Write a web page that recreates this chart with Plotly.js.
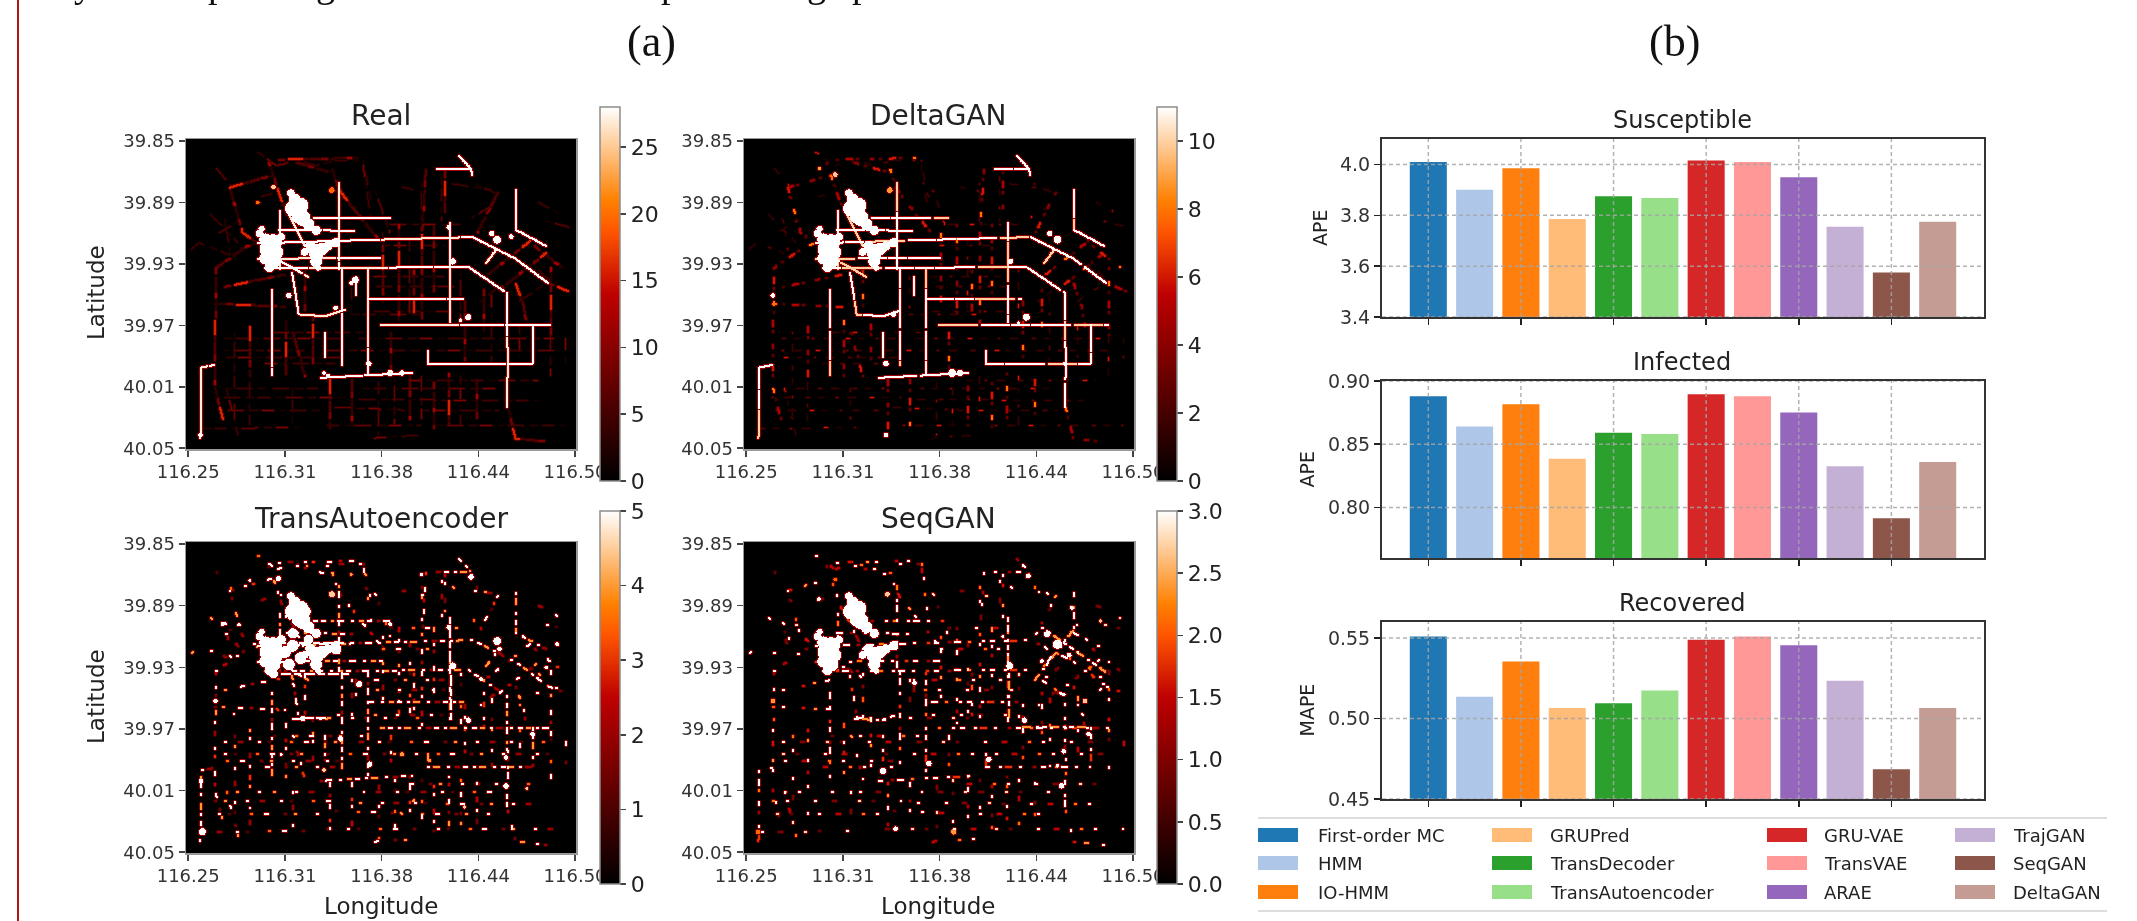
<!DOCTYPE html>
<html><head><meta charset="utf-8">
<script src="https://cdn.plot.ly/plotly-3.0.1.min.js"></script>
<style>html,body{margin:0;padding:0;background:#fff;overflow:hidden}#chart{width:2137px;height:921px;filter:blur(.6px)}</style>
</head><body><div id="chart"></div>
<script>
// ---------- bar data ----------
const methods = ['First-order MC','HMM','IO-HMM','GRUPred','TransDecoder','TransAutoencoder','GRU-VAE','TransVAE','ARAE','TrajGAN','SeqGAN','DeltaGAN'];
const barColors = ['#1f77b4','#aec7e8','#ff7f0e','#ffbb78','#2ca02c','#98df8a','#d62728','#ff9896','#9467bd','#c5b0d5','#8c564b','#c49c94'];
const susceptible = [4.01,3.90,3.985,3.785,3.875,3.868,4.015,4.01,3.95,3.755,3.575,3.775];
const infected = [0.888,0.864,0.8816,0.8385,0.859,0.858,0.8895,0.888,0.875,0.8325,0.7915,0.836];
const recovered = [0.551,0.5135,0.5355,0.5065,0.5095,0.5175,0.549,0.551,0.5455,0.5235,0.4685,0.5065];

// ---------- heat-map tick labels ----------
const lonTicks = [116.25,116.3125,116.375,116.4375,116.5];
const lonLabels = ['116.25','116.31','116.38','116.44','116.50'];
const latTicks = [39.85,39.89,39.93,39.97,40.01,40.05];
const latLabels = ['39.85','39.89','39.93','39.97','40.01','40.05'];

// ---------- roads traced from the Real / DeltaGAN maps, as % across and % down each map ----------
const mainRoads = [
 [18,33,44,32,73,31,84,38,92.5,46],
 [19.8,41,72,40.7,81.7,49,82,73,81.7,86],
 [18,38,50,37.7],[23.3,28.6,42.7,29],[32.4,24.8,52,25],[23.5,22.7,23.5,41.5],
 [38.7,13.5,38.7,41.5],[39.5,41.5,39.5,72.6],[21.5,48,21.5,75.8],
 [26.7,42.5,28.4,56,35.3,56.5,40.4,54.3],[46.2,41.5,46.2,75.8],[34,76.4,40,76,57.6,74.8],
 [46.2,51.1,70.8,51.1],[67.1,26.4,67.1,58.6],[49.6,59.2,93.1,59.2],[88.5,59.2,88.5,72],
 [61.6,71.8,88.5,71.8],[61.6,67.8,61.6,71.8],[3.2,95.7,3.4,73.1,7,72.1],
 [63.9,8.9,72.5,8.9,73,11.4],[69.6,4.9,72.5,8.9],[84,15.7,84,28.6],[76.5,39.3,79.4,34.5],
 [84,28.6,92,34],[35,62,35,70],[20,36,31,44],[26,24,30,34],[43,44,43,50]
];
const minorRoads = [
 [7.2,41,15.2,33.9,18,33],[7.2,41,7,63,7,80,9,90],[10.7,15,14,29.6,18,33],
 [20.8,7,23.6,17.8,25.5,24.3],[37,9.2,38.7,15.7,44,24.3,49,32],[23.3,6,43.6,5.5],[10.7,15,22,11],
 [79.4,16.8,74.2,29.6],[61,9.2,60,30.7,60.1,58.6],[79.9,48,92,36],[77,43,88,32],[93,41,93,63],
 [7,52.5,25,53.5],[9.5,47,25,43],[36.4,77,36.4,93],[57,75,57,90],[42,77,42,92],[63,78,63,93],
 [74,77,74,91],[54,27,54,58],[50,30,50,52],[32,56,32,72],[16,60,16,76],[27,62,30,76],
 [71,52,71,71],[76,48,76,62],[52,62,52,74],[67,75,67,92],[82,86,84,96,92,97],[92.5,46,97.7,48.5],
 [84,46,86,53,87,60],[63,27,63,50],[28,7,36,10],[89,34,96,41],[30,42,30,56],[58,42,58,56],[25,58,25,76],[66,10,66,24]
];
const faintRoads = [
 [9.5,64,40,64],[44,64,94,64],[9.5,67.8,30,67.8],[36,67.8,60,67.8],[64,67.8,94,67.8],[57,77.4,90,77.4],[7,83,40,83],[44,83.5,90,84],
 [4,93,30,92.5],[36,92,60,92],[64,92,97,92],[7.4,9,11.3,14.8],[18,3.8,23.3,8.6],[23,8,28.5,6.5,33,8,38,6.5,45,6.5],[45,6.5,47,19],
 [1,35,3,33,11,37],[9.6,25.5,11,37],[19,18,24,16.5],[13,26,8,30],[52,27,70,27],[50,34,66,34],[48,44,66,44],[46,47,70,47],[48,55,68,55],
 [42,44,42,56],[57,32,57,58],[70,42,70,58],[22,62,46,62],[10,70,40,70],[20,72,38,72],[10,80,20,80],[22,80,36,80],[45,80,60,80],[60,80,80,80],
 [8,87,34,87],[38,86,56,87],[60,87,80,87],[48,96,60,95],[12,62,12,92],[16,78,16,92],[27,80,27,92],[49,78,49,95],[53,76,53,92],[60,76,60,90],
 [70,76,70,92],[78,50,78,72],[88,40,96,48],[85,52,92,46],[75,52,81,46],[90,20,96,24],[92,26,98,28],[93,63,93,76],[85,60,85,70],[97,64,97,72],
 [60,14,60,26],[68,14,78,16],[65,12,65,26],[55,15,62,17],[48,16,52,30],[78,21,73,25],[10,80,13,95],[45,8,47,25],[74,14,79,17],[6,24,13,33],[42,56,60,56]
];
// dense hot zones, shared by all maps: x %, y %, radius %, share of the colour-bar top
const hotZones = [
 [26.5,17,1,1],[27.5,19,1.5,1],[29,21,2,1],[27,22,2,1],[29.5,25,2,1],[31,27,1.5,1],[28,25,1.2,1],[33,29,1.2,1],
 [18.5,30,1,1],[20,32,1.6,1],[22,33,2.2,1],[20.5,35,2,1],[23,36,1.6,1],[20,38,1.6,1],[22,39,1.8,1],[21,41,1.2,1],[24,31,1,1],[19,28.5,.8,1],
 [31.5,34,1.3,1],[33,36,2,1],[34.5,35,1.6,1],[33,39,1.5,1],[36,34,1.2,1],[38,33,1.2,1],[30,36,1,1],[33.5,41,.8,1]
];
const realSpots = [[79.4,32,1,1],[78,30,.7,1],[46.5,72,.7,1],[52,75,.8,1],[55,75,.7,1],[68,39,.8,1],[26,50,.7,1],[43,45,.9,1],[36,76,.6,1],[72,57,.8,1],[70,58,.5,1],[22,15,.6,.9],[37,16,.7,.7],[83,31,.6,1],[35,75,.5,1],[3.3,95,.6,1],[42,46,.5,1],[38,54,.6,1],[67,28,.6,1],[18,20,.5,.7]];
const deltaSpots = [[80,32,1,1],[78,30,.7,1],[53,75,1,1],[55,75,.8,1],[68,39,.7,1],[36,72,.7,1],[72,57,.9,1],[23,11,.6,.9],[37,16,.7,.8],[7,50,.6,1],[38,56,.7,1],[70,59,.5,1],[36,95,.6,1],[82,72,.6,1],[19,9,.4,.8]];
const transSpots = [[27,33,1.5,1],[25,35,1.5,1],[29,37,1.5,1],[26,39,1.5,1],[38,34,1.4,1],[24,31,1.2,1],[31,31,1.2,1],[30,22,1.6,1],[27,29,1.3,1],[22,42,1.2,1],[79.4,31.5,1,1],[80,34,.6,1],[68,39.5,.9,1],[67,27,.6,1],[23.3,11.3,.7,1],[72.7,10.8,.7,1],[37,16.4,.8,.9],[7.2,50.8,.6,1],[3.8,93,.9,1],[3.5,76.6,.6,1],[46.7,71.2,.7,1],[81.7,78.2,.7,1],[29.6,56.4,.7,1],[39.3,63,.7,1],[44,45.4,.8,1],[72,57,.7,1],[81.7,69,.6,1],[88.5,61.5,.6,1],[75.3,43.8,.5,1],[94.8,32.5,.5,1],[9,26,.5,1],[62,70,.5,.8],[87,79,.4,.9],[55,68,.5,.8],[35,73,.5,.9],[24,68,.4,1],[58,83,.4,.8],[71,85,.4,.9],[16,12,.4,1],[42,10,.4,.8],[60,10,.4,1],[52,26,.5,1],[12,55,.3,1],[92,40,.5,1]];
const seqSpots = [[80,32.5,1.2,1],[77.3,29.3,.8,1],[83.7,20.7,.5,1],[67.8,39.5,.9,1],[18.8,18,.5,1],[36.4,16.4,.6,.9],[47,71,.7,1],[35.3,73.4,.8,1],[81,78.2,.7,1],[62.4,69.6,.7,1],[81.6,67,.6,1],[80,71.7,.5,1],[88,61.5,.6,1],[87,50.8,.6,.9],[81.6,48.7,.5,1],[38.5,92,.6,1],[53.4,93,.7,.8],[3.2,93,.6,.7],[7.1,50.8,.6,.8],[43.3,45,.6,1],[71.5,57,.7,1],[72.5,10.5,.6,1],[23,11.6,.5,.7],[91,25,.4,.9],[66,30,.4,1],[83,36,.6,1],[76,38,.5,1]];
// extra traced streaks per map
const seqRoads = [[67.1,24,67.5,58],[74,44,85,26],[76,27,93,42],[28,56.5,36,56.8],[71,59,88,59]];
const transRoads = [[67.1,24,67.5,57],[27,56.4,36,56],[20,32,40,32],[24,42,42,42]];

const realMainRuns = [40,1,22,1]; const realMainVals = [28,28,27,28];
const realMinorRuns = [5,1,3,2,7,1,2,1]; const realMinorVals = [6,9,4,12,3,8,16,5];
const realFaintRuns = [4,2,6,3,3,2,8,3]; const realFaintVals = [3,5,2,7,4,9,2,5];
const deltaMainRuns = [14,1,9,1,20,2]; const deltaMainVals = [11,11,10,11];
const deltaMinorRuns = [2,3,1,4,3,2,1,6]; const deltaMinorVals = [4,2.5,6,3,8,2,5,3];
const deltaFaintRuns = [2,4,3,6,1,5,4,7]; const deltaFaintVals = [2.5,1.2,4,1.6,6,1,3,1.6];
const transMainRuns = [2,3,1,2,3,4,1,3,2,2]; const transMainVals = [5,4,5,2,5,5,4,5];
const transMinorRuns = [1,4,2,6,1,3,1,7,2,4]; const transMinorVals = [5,2.5,5,1.5,4,5,2,5,3];
const transFaintRuns = [1,6,2,8,1,4,1,10]; const transFaintVals = [5,2,5,1,3.5,5,1.5,4];
const seqMainRuns = [1,3,2,5,1,2,3,4,1,6]; const seqMainVals = [3,3,1.8,3,1.2,3,2.2,3];
const seqMinorRuns = [1,5,2,7,1,4,1,9,1,5]; const seqMinorVals = [3,1.4,3,1,2,3,1.6,2.4];
const seqFaintRuns = [1,8,2,11,1,6,1,13]; const seqFaintVals = [3,1,2.8,.8,3,1.5,2.2,3];

const panelTitles = ['Real','DeltaGAN','TransAutoencoder','SeqGAN'];
const panelMax = [28,11,5,3];
const panelTicks = [[0,5,10,15,20,25],[0,2,4,6,8,10],[0,1,2,3,4,5],[0,0.5,1,1.5,2,2.5,3]];
const panelTickText = [['0','5','10','15','20','25'],['0','2','4','6','8','10'],['0','1','2','3','4','5'],['0.0','0.5','1.0','1.5','2.0','2.5','3.0']];

// ---------- layout geometry (px) ----------
const W=2137,H=921,COLS=390,ROWS=310,RUN=1.95;
const xPx=v=>v/W, yPx=v=>1-v/H;
const lonRange=[116.2486,116.5006], latRange=[40.0505,39.8487];
const heatBoxes=[[186,576,139,449],[744,1134,139,449],[186,576,542,853],[744,1134,542,853]];
const cbBoxes=[[600,107,481],[1157,107,481],[600,511,884],[1157,511,884]];
const heatScale=[[0,'#000000'],[0.5,'#bf0000'],[0.667,'#ff5500'],[0.75,'#ff8000'],[1,'#ffffff']];

function paint(z,roads,runs,vals,size){
  roads.forEach((r,ri)=>{
    let run=(ri*2)%runs.length, left=runs[run]*RUN, on=true, vi=ri%vals.length;
    for(let k=0;k+3<r.length;k+=2){
      const x0=r[k]*COLS/100,y0=r[k+1]*ROWS/100,x1=r[k+2]*COLS/100,y1=r[k+3]*ROWS/100;
      const n=Math.max(1,Math.ceil(Math.hypot(x1-x0,y1-y0)));
      for(let s=0;s<n;s++){
        const c=Math.round(x0+(x1-x0)*s/n),w=Math.round(y0+(y1-y0)*s/n);
        if(on) for(let a=0;a<size;a++)for(let b=0;b<size;b++){ if(z[w+a]&&c+b>=0&&c+b<COLS) z[w+a][c+b]=Math.max(z[w+a][c+b],vals[vi]); }
        if(--left<=0){run=(run+1)%runs.length;left=runs[run]*RUN;on=run%2===0;if(on)vi=(vi+1)%vals.length;}
      }
    }
  });
}
function paintSpots(z,spots,top){
  spots.forEach(([x,y,r,v])=>{
    const cx=x*COLS/100,cy=y*ROWS/100,rc=r*COLS/100;
    for(let w=Math.floor(cy-rc);w<=cy+rc;w++)for(let c=Math.floor(cx-rc);c<=cx+rc;c++){
      if(w<0||w>=ROWS||c<0||c>=COLS)continue;
      if(((c-cx)/rc)**2+((w-cy)/rc)**2<=1) z[w][c]=Math.max(z[w][c],v*top);
    }
  });
}
// soft glow one cell wide round every mark, as in the blurred source image
function glow(z){
  return z.map((row,w)=>row.map((v,c)=>{
    let m=v;
    [[-1,0,.42],[1,0,.42],[0,-1,.42],[0,1,.42],[-1,-1,.2],[-1,1,.2],[1,-1,.2],[1,1,.2]].forEach(([a,b,f])=>{
      const n=z[w+a]&&z[w+a][c+b]; if(n) m=Math.max(m,n*f);
    });
    return m;
  }));
}
const blank=()=>Array.from({length:ROWS},()=>new Array(COLS).fill(0));
const zs=[blank(),blank(),blank(),blank()];
paint(zs[0],faintRoads,realFaintRuns,realFaintVals,1);paint(zs[0],minorRoads,realMinorRuns,realMinorVals,2);paint(zs[0],mainRoads,realMainRuns,realMainVals,2);paintSpots(zs[0],hotZones,28);paintSpots(zs[0],realSpots,28);
paint(zs[1],faintRoads,deltaFaintRuns,deltaFaintVals,1);paint(zs[1],minorRoads,deltaMinorRuns,deltaMinorVals,2);paint(zs[1],mainRoads,deltaMainRuns,deltaMainVals,2);paintSpots(zs[1],hotZones,11);paintSpots(zs[1],deltaSpots,11);
paint(zs[2],faintRoads,transFaintRuns,transFaintVals,2);paint(zs[2],minorRoads,transMinorRuns,transMinorVals,2);paint(zs[2],mainRoads,transMainRuns,transMainVals,2);paint(zs[2],transRoads,[3,2,5,2],[5],2);paintSpots(zs[2],hotZones,5);paintSpots(zs[2],transSpots,5);
paint(zs[3],faintRoads,seqFaintRuns,seqFaintVals,2);paint(zs[3],minorRoads,seqMinorRuns,seqMinorVals,2);paint(zs[3],mainRoads,seqMainRuns,seqMainVals,2);paint(zs[3],seqRoads,[2,2,4,3,1,2],[3,2.4,3],2);paintSpots(zs[3],hotZones,3);paintSpots(zs[3],seqSpots,3);
const zFinal=zs.map(glow);

const lons=Array.from({length:COLS},(_,i)=>lonRange[0]+(i+.5)/COLS*(lonRange[1]-lonRange[0]));
const lats=Array.from({length:ROWS},(_,i)=>latRange[1]+(i+.5)/ROWS*(latRange[0]-latRange[1]));

const FONT='"DejaVu Sans",sans-serif';
const traces=[],layout={
  width:W,height:H,margin:{l:0,r:0,t:0,b:0},paper_bgcolor:'#fff',plot_bgcolor:'#fff',showlegend:false,
  font:{family:FONT,color:'#222'},annotations:[],shapes:[]
};
const note=(text,x,y,size,extra={})=>layout.annotations.push(Object.assign({text,xref:'paper',yref:'paper',x:xPx(x),y:yPx(y),showarrow:false,xanchor:'center',yanchor:'middle',font:{size,family:FONT,color:'#222'}},extra));

// heat maps
heatBoxes.forEach((b,i)=>{
  const n=i+1,xn='xaxis'+(n===1?'':n),yn='yaxis'+(n===1?'':n);
  traces.push({type:'heatmap',x:lons,y:lats,z:zFinal[i],xaxis:'x'+(n===1?'':n),yaxis:'y'+(n===1?'':n),zmin:0,zmax:panelMax[i],zsmooth:'best',colorscale:heatScale,hoverinfo:'skip',
    colorbar:{thickness:20,thicknessmode:'pixels',len:cbBoxes[i][2]-cbBoxes[i][1],lenmode:'pixels',xref:'paper',yref:'paper',x:xPx(cbBoxes[i][0]),xanchor:'left',xpad:0,ypad:0,
      y:yPx((cbBoxes[i][1]+cbBoxes[i][2])/2),yanchor:'middle',outlinecolor:'#8c8c8c',outlinewidth:1.5,ticks:'outside',ticklen:6,tickwidth:1.5,tickcolor:'#444',
      tickmode:'array',tickvals:panelTicks[i],ticktext:panelTickText[i],tickfont:{size:22,family:FONT,color:'#222'}}});
  layout[xn]={domain:[xPx(b[0]),xPx(b[1])],range:lonRange,tickmode:'array',tickvals:lonTicks,ticktext:lonLabels,ticks:'outside',ticklen:6,tickwidth:1.5,tickcolor:'#444',
    tickfont:{size:18,family:FONT,color:'#333'},tickangle:0,showgrid:false,zeroline:false,showline:true,linecolor:'#999',linewidth:1.5,mirror:true,anchor:'y'+(n===1?'':n)};
  layout[yn]={domain:[yPx(b[3]),yPx(b[2])],range:latRange,tickmode:'array',tickvals:latTicks,ticktext:latLabels,ticks:'outside',ticklen:6,tickwidth:1.5,tickcolor:'#444',
    tickfont:{size:18,family:FONT,color:'#333'},showgrid:false,zeroline:false,showline:true,linecolor:'#999',linewidth:1.5,mirror:true,anchor:'x'+(n===1?'':n)};
  note(panelTitles[i],(b[0]+b[1])/2-(i%2?1:0),b[2]-24,28);
});
note('Latitude',96,293,23,{textangle:-90});
note('Latitude',96,697,23,{textangle:-90});
note('Longitude',381,906,23);
note('Longitude',938,906,23);

// bars
const barBoxes=[[139,317],[381,558],[622,799]];
const barSeries=[susceptible,infected,recovered];
const barTitles=['Susceptible','Infected','Recovered'];
const barRanges=[[3.4,4.1],[0.76,0.90],[0.45,0.56]];
const barTicks=[[3.4,3.6,3.8,4.0],[0.80,0.85,0.90],[0.45,0.50,0.55]];
const barTickText=[['3.4','3.6','3.8','4.0'],['0.80','0.85','0.90'],['0.45','0.50','0.55']];
const barYLabels=['APE','APE','MAPE'];
const barLabelX=[1320,1306,1306];
const xTicksBar=[0,2,4,6,8,10];
barBoxes.forEach((b,i)=>{
  const n=i+5;
  methods.forEach((m,k)=>traces.push({type:'bar',name:m,x:[k],y:[barSeries[i][k]],width:0.8,marker:{color:barColors[k],line:{width:0}},xaxis:'x'+n,yaxis:'y'+n,hovertemplate:m+': %{y}<extra></extra>'}));
  layout['xaxis'+n]={domain:[xPx(1382),xPx(1984)],range:[-1,12],tickmode:'array',tickvals:xTicksBar,showticklabels:false,ticks:'outside',ticklen:6,tickwidth:1.5,tickcolor:'#222',
    showgrid:false,zeroline:false,showline:true,linecolor:'#333',linewidth:2,mirror:true,anchor:'y'+n};
  layout['yaxis'+n]={domain:[yPx(b[1]),yPx(b[0])],range:barRanges[i],tickmode:'array',tickvals:barTicks[i],ticktext:barTickText[i],ticks:'outside',ticklen:6,tickwidth:1.5,tickcolor:'#222',
    tickfont:{size:19,family:FONT,color:'#333'},showgrid:false,zeroline:false,showline:true,linecolor:'#333',linewidth:2,mirror:true,anchor:'x'+n};
  const gl={color:'rgba(165,165,165,.85)',width:1.5,dash:'4px,3px'};
  xTicksBar.forEach(t=>layout.shapes.push({type:'line',layer:'above',xref:'x'+n,yref:'y'+n+' domain',x0:t,x1:t,y0:0,y1:1,line:gl}));
  barTicks[i].forEach(t=>layout.shapes.push({type:'line',layer:'above',xref:'x'+n+' domain',yref:'y'+n,x0:0,x1:1,y0:t,y1:t,line:gl}));
  note(barTitles[i],1682,b[0]-19,24);
  note(barYLabels[i],barLabelX[i],(b[0]+b[1])/2,19,{textangle:-90});
});
layout.barmode='overlay';

// legend block
const legX=[1258,1492,1767,1955], legTextX=[1315.5,1548,1822,2011], legY=[835,863,892];
methods.forEach((m,k)=>{
  const c=Math.floor(k/3),r=k%3;
  layout.shapes.push({type:'rect',xref:'paper',yref:'paper',x0:xPx(legX[c]),x1:xPx(legX[c]+40),y0:yPx(legY[r]+7),y1:yPx(legY[r]-7),fillcolor:barColors[k],line:{width:0}});
  note(m,legTextX[c],legY[r],18,{xanchor:'left'});
});
[818,911].forEach(y=>layout.shapes.push({type:'line',xref:'paper',yref:'paper',x0:xPx(1258),x1:xPx(2107),y0:yPx(y),y1:yPx(y),line:{color:'#dddddd',width:2}}));

// page furniture: red margin rule, sub-figure labels, descenders of the cut-off text line
layout.shapes.push({type:'line',xref:'paper',yref:'paper',x0:xPx(18),x1:xPx(18),y0:0,y1:1,line:{color:'#b01313',width:2}});
const SERIF='"Liberation Serif",serif';
note('(a)',651,41,44,{font:{size:44,family:SERIF,color:'#111'}});
note('(b)',1675,41,44,{font:{size:44,family:SERIF,color:'#111'}});
[['y',83],['p',217],['g',325],['p',670],['g',816],['p',861]].forEach(([t,x])=>note(t,x,-16,38,{font:{size:38,family:SERIF,color:'#111'}}));

Plotly.newPlot('chart',traces,layout,{staticPlot:true,displayModeBar:false});
</script></body></html>
